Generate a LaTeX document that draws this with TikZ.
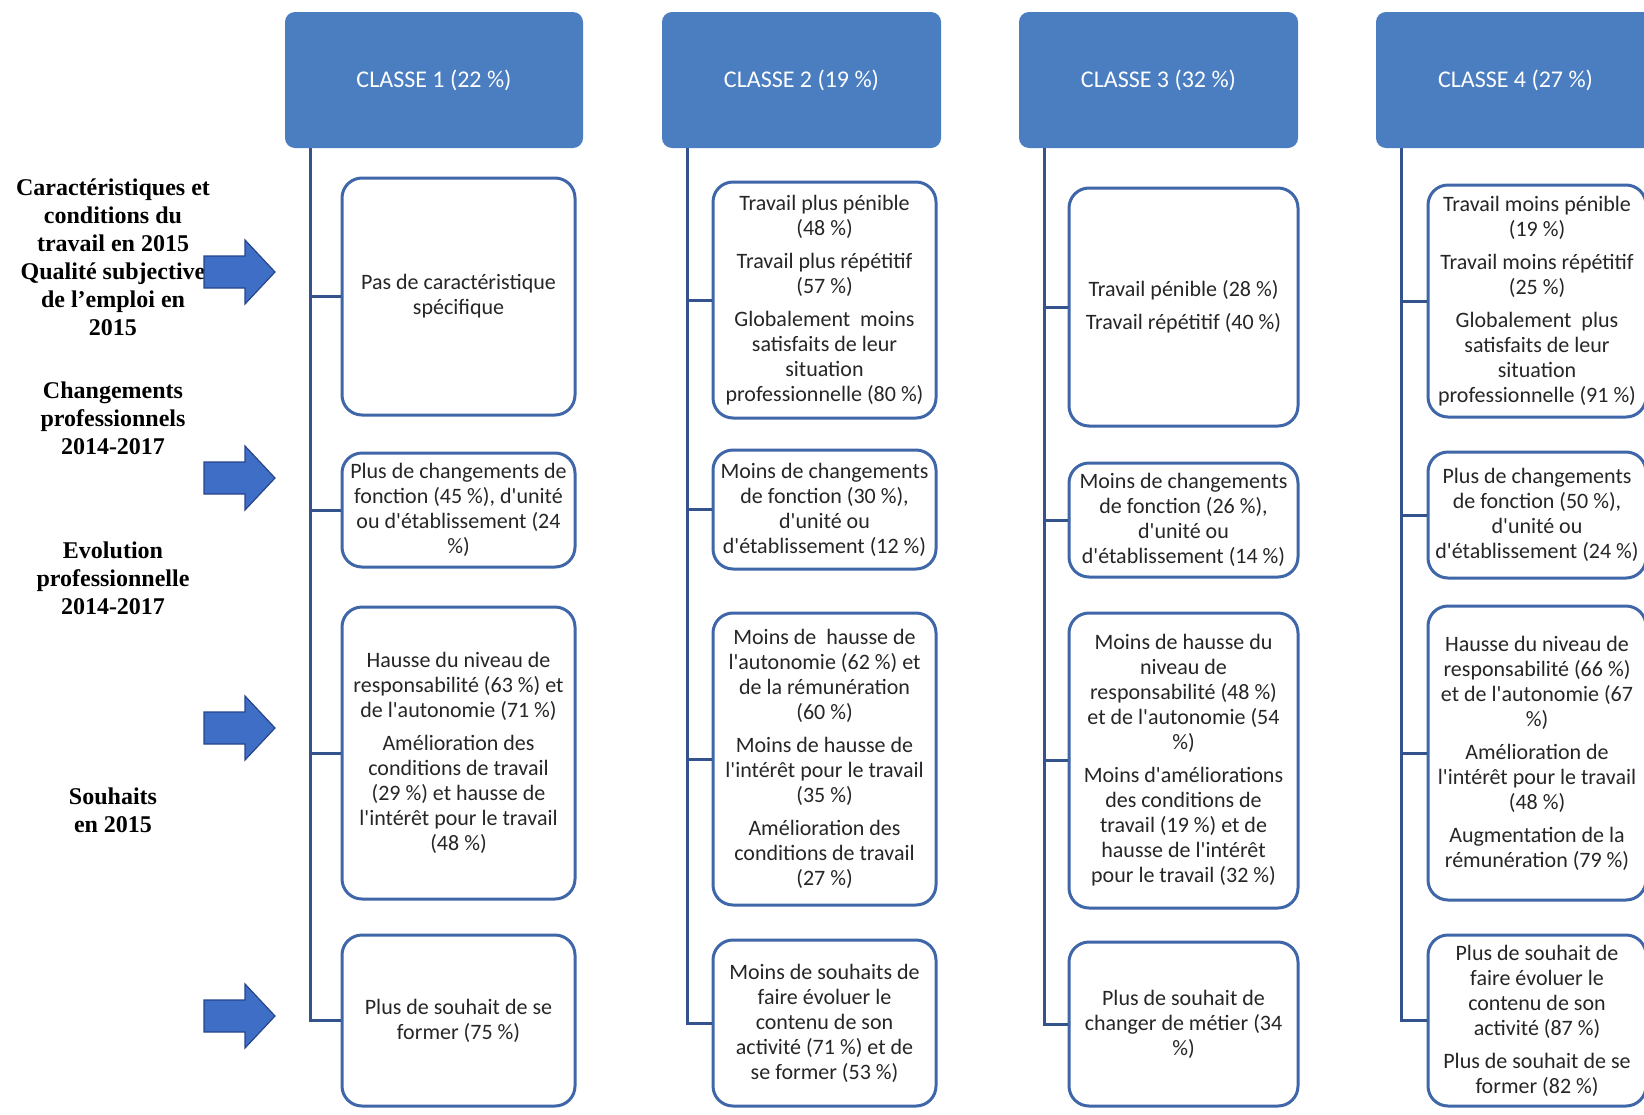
\documentclass[tikz,border=0pt]{standalone}
\usepackage{fontspec}
\newfontfamily\boxfont{Carlito}
\newfontfamily\labelfont{Liberation Serif}

\definecolor{headblue}{RGB}{74,126,193}
\definecolor{boxblue}{RGB}{62,102,168}
\definecolor{linkblue}{RGB}{52,82,140}
\definecolor{arrowfill}{RGB}{62,110,198}
\definecolor{arrowdraw}{RGB}{40,68,138}
\definecolor{textgray}{RGB}{38,38,38}

\begin{document}
\begin{tikzpicture}[x=1pt, y=-1pt,
    classbox/.style={fill=headblue, rounded corners=10pt, text=white, minimum height=136pt,
      font=\boxfont\fontsize{24}{28}\selectfont},
    itembox/.style={draw=boxblue, line width=3pt, fill=white, rounded corners=20pt, inner sep=0pt,
      align=center, text=textgray, font=\boxfont\fontsize{22}{25}\selectfont},
    leftlabel/.style={align=center, font=\labelfont\bfseries\fontsize{24}{28}\selectfont},
    link/.style={draw=linkblue, line width=3pt},
    blockarrow/.style={fill=arrowfill, draw=arrowdraw, line width=1.2pt, line join=miter}]
  \useasboundingbox (0,0) rectangle (1644,1114);

  % themes on the left
  \node[leftlabel] (lab1) at (113,257) {Caractéristiques et\\conditions du\\travail en 2015\\Qualité subjective\\de l’emploi en\\2015};
  \node[leftlabel] (lab2) at (113,418) {Changements\\professionnels\\2014-2017};
  \node[leftlabel] (lab3) at (113,578) {Evolution\\professionnelle\\2014-2017};
  \node[leftlabel] (lab4) at (113,810) {Souhaits\\en 2015};

  \foreach \ay in {272,478,728,1016}
    \draw[blockarrow] (204,\ay-16) -- (245,\ay-16) -- (245,\ay-32) -- (275,\ay)
      -- (245,\ay+32) -- (245,\ay+16) -- (204,\ay+16) -- cycle;

  % classes
  \node[classbox, minimum width=298pt] (class1) at (434,80) {CLASSE 1 (22 \%)};
  \node[classbox, minimum width=279pt] (class2) at (801.5,80) {CLASSE 2 (19 \%)};
  \node[classbox, minimum width=279pt] (class3) at (1158.5,80) {CLASSE 3 (32 \%)};
  \node[classbox, minimum width=279pt] (class4) at (1515.5,80) {CLASSE 4 (27 \%)};

  % classe 1
  \node[itembox, minimum width=233pt, minimum height=237pt] (b11) at (458.5,296.5)
    {Pas de caractéristique\\spécifique};
  \node[itembox, minimum width=233pt, minimum height=114pt] (b12) at (458.5,510)
    {Plus de changements de\\fonction (45 \%), d'unité\\ou d'établissement (24\\\%)};
  \node[itembox, minimum width=233pt, minimum height=292pt] (b13) at (458.5,753)
    {Hausse du niveau de\\responsabilité (63 \%) et\\de l'autonomie (71 \%)\\[8pt]Amélioration des\\conditions de travail\\(29 \%) et hausse de\\l'intérêt pour le travail\\(48 \%)};
  \node[itembox, minimum width=233pt, minimum height=171pt] (b14) at (458.5,1020.5)
    {Plus de souhait de se\\former (75 \%)};

  % classe 2
  \node[itembox, minimum width=223pt, minimum height=236pt] (b21) at (824.5,300)
    {Travail plus pénible\\(48 \%)\\[8pt]Travail plus répétitif\\(57 \%)\\[8pt]Globalement\ \ moins\\satisfaits de leur\\situation\\professionnelle (80 \%)};
  \node[itembox, minimum width=223pt, minimum height=119pt] (b22) at (824.5,509.5)
    {Moins de changements\\de fonction (30 \%),\\d'unité ou\\d'établissement (12 \%)};
  \node[itembox, minimum width=223pt, minimum height=292pt] (b23) at (824.5,759)
    {Moins de\ \ hausse de\\l'autonomie (62 \%) et\\de la rémunération\\(60 \%)\\[8pt]Moins de hausse de\\l'intérêt pour le travail\\(35 \%)\\[8pt]Amélioration des\\conditions de travail\\(27 \%)};
  \node[itembox, minimum width=223pt, minimum height=166pt] (b24) at (824.5,1023)
    {Moins de souhaits de\\faire évoluer le\\contenu de son\\activité (71 \%) et de\\se former (53 \%)};

  % classe 3
  \node[itembox, minimum width=229pt, minimum height=238pt] (b31) at (1183.5,307)
    {Travail pénible (28 \%)\\[8pt]Travail répétitif (40 \%)};
  \node[itembox, minimum width=229pt, minimum height=114pt] (b32) at (1183.5,520)
    {Moins de changements\\de fonction (26 \%),\\d'unité ou\\d'établissement (14 \%)};
  \node[itembox, minimum width=229pt, minimum height=295pt] (b33) at (1183.5,760.5)
    {Moins de hausse du\\niveau de\\responsabilité (48 \%)\\et de l'autonomie (54\\\%)\\[8pt]Moins d'améliorations\\des conditions de\\travail (19 \%) et de\\hausse de l'intérêt\\pour le travail (32 \%)};
  \node[itembox, minimum width=229pt, minimum height=164pt] (b34) at (1183.5,1024)
    {Plus de souhait de\\changer de métier (34\\\%)};

  % classe 4
  \node[itembox, minimum width=218pt, minimum height=232pt] (b41) at (1537,301)
    {Travail moins pénible\\(19 \%)\\[8pt]Travail moins répétitif\\(25 \%)\\[8pt]Globalement\ \ plus\\satisfaits de leur\\situation\\professionnelle (91 \%)};
  \node[itembox, minimum width=218pt, minimum height=126pt] (b42) at (1537,515)
    {Plus de changements\\de fonction (50 \%),\\d'unité ou\\d'établissement (24 \%)};
  \node[itembox, minimum width=218pt, minimum height=294pt] (b43) at (1537,753)
    {Hausse du niveau de\\responsabilité (66 \%)\\et de l'autonomie (67\\\%)\\[8pt]Amélioration de\\l'intérêt pour le travail\\(48 \%)\\[8pt]Augmentation de la\\rémunération (79 \%)};
  \node[itembox, minimum width=218pt, minimum height=171pt] (b44) at (1537,1020.5)
    {Plus de souhait de\\faire évoluer le\\contenu de son\\activité (87 \%)\\[8pt]Plus de souhait de se\\former (82 \%)};

  % trunks and branches
  \foreach \c in {1,...,4} {
    \coordinate (t\c) at ([xshift=26pt]class\c.south west);
    \draw[link] (t\c) |- (b\c4.west);
    \foreach \r in {1,2,3}
      \draw[link] (t\c |- b\c\r.west) -- (b\c\r.west);
  }
\end{tikzpicture}
\end{document}
